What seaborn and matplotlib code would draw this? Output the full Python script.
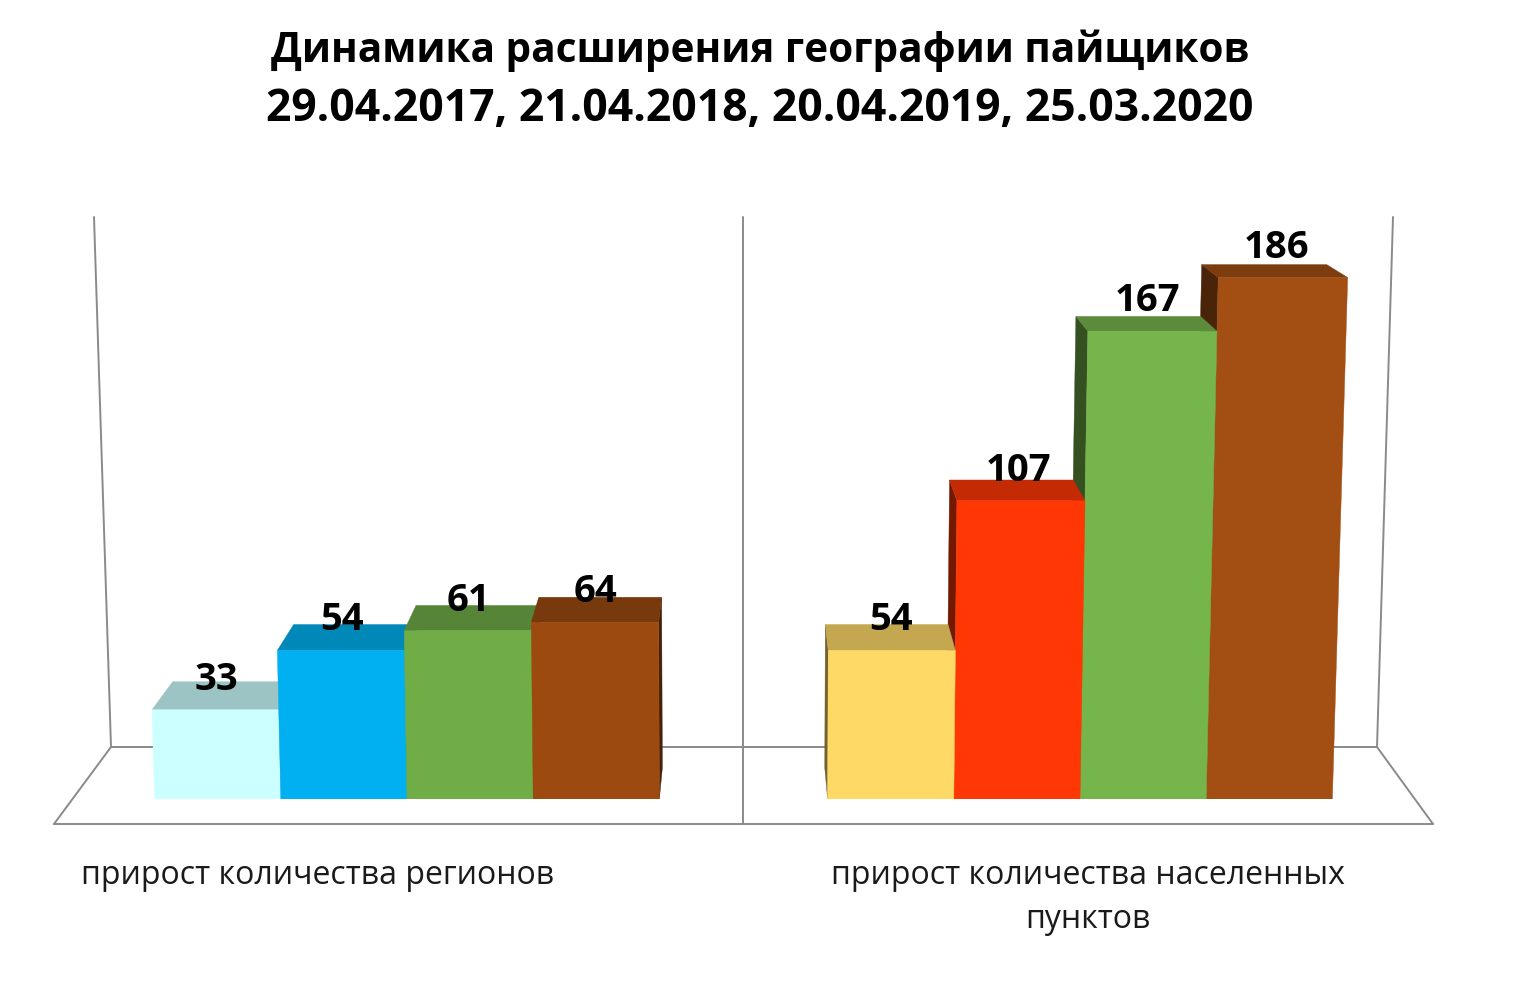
import numpy as np
import pandas as pd
import matplotlib.pyplot as plt
from matplotlib.patches import Polygon
import seaborn as sns

title_lines = ["Динамика расширения географии пайщиков",
               "29.04.2017, 21.04.2018, 20.04.2019, 25.03.2020"]
categories = ["прирост количества регионов", "прирост количества населенных\nпунктов"]
periods = ["2017", "2018", "2019", "2020"]
region_values = [33, 54, 61, 64]
settlement_values = [54, 107, 167, 186]
region_colors = ["#CCFFFF", "#00B0F0", "#70AD47", "#9C4A10"]
settlement_colors = ["#FFD966", "#FF3705", "#76B54C", "#A34F14"]

W, H = 1520, 998
BASE_PX = 799          # bottom of the bars
PX_PER_UNIT = 2.825
FLOOR_VALUE = 1.416    # value axis doesn't start at 0 in the original
PX_PER_CAT = 673
CAT0_PX = 407
VANISH = (745, -95)    # depth vanishing point, px
DEPTH = 0.0348
LEAN = 5e-5

sns.set_theme(style="white")
plt.rcParams['font.family'] = ['Open Sans', 'DejaVu Sans']

df = pd.DataFrame({
    "category": [categories[0]] * 4 + [categories[1]] * 4,
    "period": periods * 2,
    "value": region_values + settlement_values,
})

fig = plt.figure(figsize=(W / 100, H / 100), dpi=100, facecolor="white")

# pixel space layer for the frame and the texts
bg = fig.add_axes([0, 0, 1, 1], zorder=0)
bg.set_xlim(0, W)
bg.set_ylim(H, 0)
bg.axis("off")
frame = "#8a8a8a"
for xs, ys in [([54, 1433], [824, 824]), ([111, 1377], [747, 747]),
               ([54, 111], [824, 747]), ([1433, 1377], [824, 747]),
               ([111, 94], [747, 217]), ([1377, 1393], [747, 217]),
               ([743, 743], [217, 824])]:
    bg.plot(xs, ys, color=frame, lw=1.4, solid_capstyle="round")

# axes bottom sits on the bar base
ax = fig.add_axes([0, (H - BASE_PX) / H, 1, BASE_PX / H], zorder=1)
ax.patch.set_alpha(0)
sns.barplot(data=df, x="category", y="value", hue="period", hue_order=periods,
            order=categories, palette=region_colors, width=0.75, gap=0,
            legend=False, saturation=1, ax=ax)
ax.set_xlim(-CAT0_PX / PX_PER_CAT, (W - CAT0_PX) / PX_PER_CAT)
ax.set_ylim(FLOOR_VALUE, FLOOR_VALUE + BASE_PX / PX_PER_UNIT)
ax.axis("off")


def to_px(x, y):
    return CAT0_PX + x * PX_PER_CAT, BASE_PX - (y - FLOOR_VALUE) * PX_PER_UNIT


def from_px(px, py):
    return (px - CAT0_PX) / PX_PER_CAT, FLOOR_VALUE + (BASE_PX - py) / PX_PER_UNIT


def upright(px, py):
    # verticals fan out towards the top of the picture
    return px + LEAN * (px - VANISH[0]) * (BASE_PX - py), py


def back(px, py):
    return px + DEPTH * (VANISH[0] - px), py + DEPTH * (VANISH[1] - py)


def shade(color, k):
    return tuple(np.array(plt.matplotlib.colors.to_rgb(color)) * k)


def face(points, color, z):
    ax.add_patch(Polygon([from_px(*p) for p in points], closed=True, facecolor=color,
                         edgecolor=color, lw=0.3, zorder=z))


bars = []
for i, cont in enumerate(ax.containers):
    for j, bar in enumerate(cont):
        bars.append((bar, [region_colors, settlement_colors][j][i]))

# outer bars first, the ones close to the middle end up on top
bars.sort(key=lambda b: -abs(to_px(b[0].get_x() + b[0].get_width() / 2, 0)[0] - VANISH[0]))
for z, (bar, color) in enumerate(bars):
    z = 2 + z * 0.1
    x0 = bar.get_x()
    x1 = x0 + bar.get_width()
    top = bar.get_height()
    lpx, top_px = to_px(x0, top)
    rpx, _ = to_px(x1, top)
    bl, br = (lpx, BASE_PX), (rpx, BASE_PX)
    tl, tr = upright(lpx, top_px), upright(rpx, top_px)

    if lpx > VANISH[0]:
        face([bl, tl, back(*tl), back(*bl)], shade(color, 0.45), z)
    if rpx < VANISH[0]:
        face([br, tr, back(*tr), back(*br)], shade(color, 0.45), z)
    face([tl, tr, back(*tr), back(*tl)], shade(color, 0.77), z + 0.01)
    face([bl, br, tr, tl], color, z + 0.02)
    bar.set_visible(False)

    # label follows half of the lean
    mid = (lpx + rpx) / 2
    mid = mid + 0.5 * LEAN * (mid - VANISH[0]) * (BASE_PX - top_px)
    ax.text(*from_px(mid, top_px - 30), f"{top:.0f}", ha="center", va="center",
            fontsize=27.5, fontweight="bold", color="black", zorder=10)

for line, y, size in zip(title_lines, [51, 109], [29.2, 32]):
    bg.text(760, y, line, ha="center", va="center", fontsize=size, fontweight="bold", color="black")

bg.text(318, 875, categories[0], ha="center", va="center", fontsize=23, color="#1a1a1a")
for line, y in zip(categories[1].split("\n"), [875, 920]):
    bg.text(1088, y, line, ha="center", va="center", fontsize=23, color="#1a1a1a")

fig.savefig("out.png", dpi=100)
